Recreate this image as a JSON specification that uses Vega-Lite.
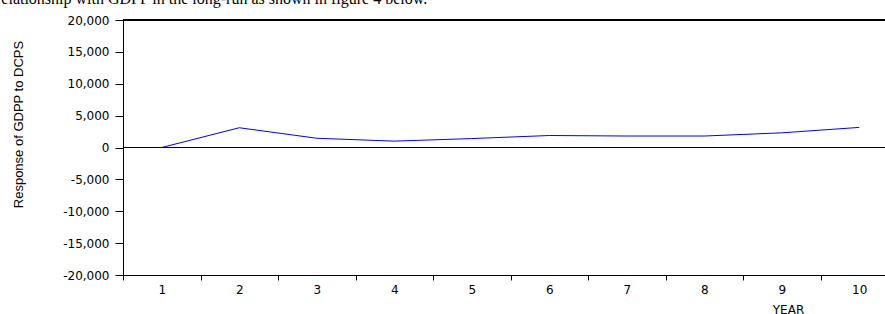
{
  "$schema": "https://vega.github.io/schema/vega-lite/v6.json",
  "width": 762,
  "height": 255,
  "autosize": {"type": "none"},
  "padding": {"left": 123, "top": 20, "right": 0, "bottom": 39},
  "background": "white",
  "title": {
    "text": "relationship with GDPP in the long-run as shown in figure 4 below.",
    "anchor": "start",
    "frame": "group",
    "font": "Liberation Serif",
    "fontSize": 16,
    "fontWeight": "normal",
    "color": "black",
    "dx": -127,
    "offset": 7,
    "baseline": "top"
  },
  "config": {
    "view": {"stroke": null},
    "axis": {
      "domainColor": "black",
      "tickColor": "black",
      "labelColor": "black",
      "titleColor": "black",
      "grid": false,
      "labelFont": "DejaVu Sans",
      "titleFont": "Liberation Sans",
      "titleFontWeight": "normal"
    }
  },
  "data": {
    "values": [
      {"year": 1, "response": 0},
      {"year": 2, "response": 3100},
      {"year": 3, "response": 1450},
      {"year": 4, "response": 1000},
      {"year": 5, "response": 1400},
      {"year": 6, "response": 1880},
      {"year": 7, "response": 1800},
      {"year": 8, "response": 1800},
      {"year": 9, "response": 2300},
      {"year": 10, "response": 3150}
    ]
  },
  "encoding": {
    "y": {
      "type": "quantitative",
      "scale": {"domain": [-20000, 20000], "nice": false},
      "axis": {
        "values": [-20000, -15000, -10000, -5000, 0, 5000, 10000, 15000, 20000],
        "labelExpr": "replace(format(datum.value, ',.0f'), '\u2212', '-')",
        "labelFontSize": 12,
        "tickSize": 8,
        "labelPadding": 6,
        "title": "Response of GDPP to DCPS",
        "titleFontSize": 13,
        "titleAngle": 270,
        "titleAlign": "center",
        "titleBaseline": "middle",
        "titleX": -105,
        "titleY": 104
      }
    }
  },
  "layer": [
    {
      "mark": {"type": "line", "color": "#0000ff", "strokeWidth": 1},
      "encoding": {
        "x": {
          "field": "year",
          "type": "ordinal",
          "scale": {"type": "band", "paddingInner": 0, "paddingOuter": 0, "range": [0, 775]},
          "axis": {
            "title": "YEAR",
            "labelAngle": 0,
            "labelFontSize": 12,
            "tickSize": 5,
            "tickBand": "extent",
            "labelPadding": 4,
            "titleFont": "DejaVu Sans",
            "titleFontSize": 12,
            "titleX": 665,
            "titleY": 38,
            "titleAlign": "center",
            "titleBaseline": "alphabetic"
          }
        },
        "y": {"field": "response"}
      }
    },
    {
      "mark": {"type": "rule", "color": "black", "strokeWidth": 1},
      "encoding": {"y": {"datum": 0}}
    },
    {
      "mark": {"type": "rule", "color": "black", "strokeWidth": 1},
      "encoding": {"y": {"datum": 20000}}
    }
  ]
}
